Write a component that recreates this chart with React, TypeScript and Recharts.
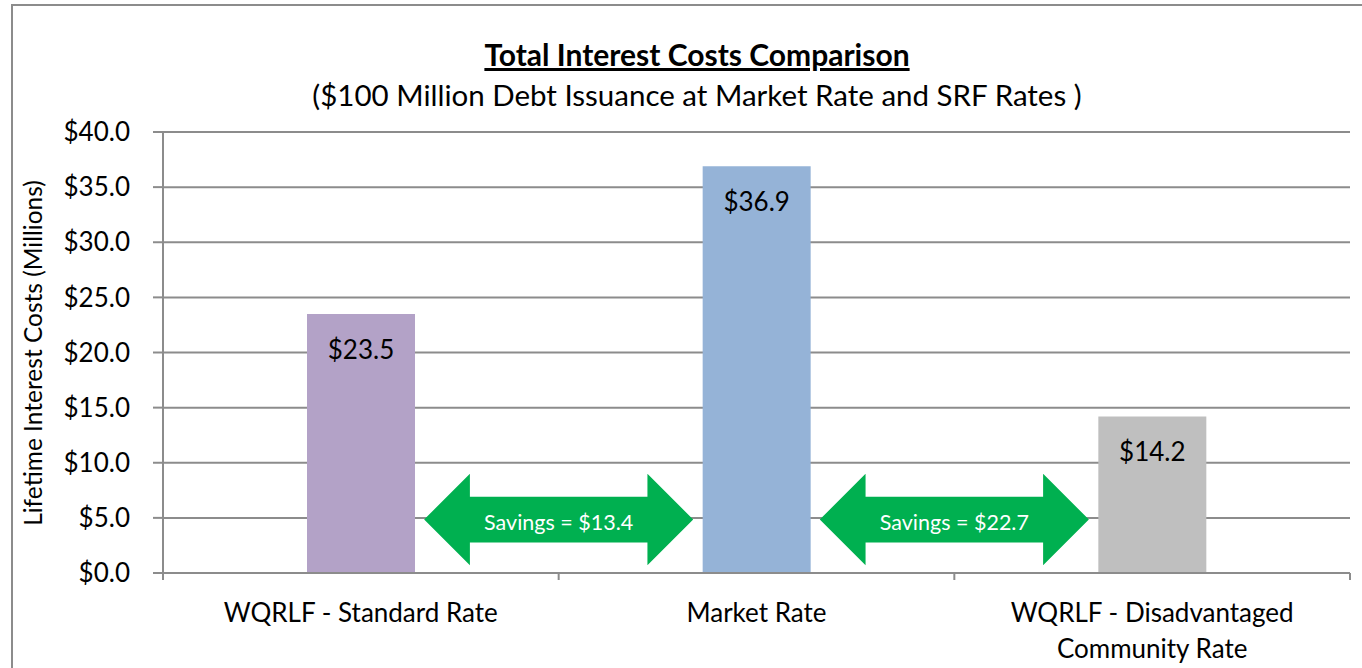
import React from "react";
import {
  BarChart,
  Bar,
  XAxis,
  YAxis,
  CartesianGrid,
  Cell,
  LabelList,
  ReferenceArea,
} from "recharts";

const categories = [
  "WQRLF - Standard Rate",
  "Market Rate",
  "WQRLF - Disadvantaged Community Rate",
];
const categoryLines = [
  ["WQRLF - Standard Rate"],
  ["Market Rate"],
  ["WQRLF - Disadvantaged", "Community Rate"],
];
const values = [23.5, 36.9, 14.2];
const barColors = ["#B3A2C7", "#95B3D7", "#BFBFBF"];
const yTicks = [0, 5, 10, 15, 20, 25, 30, 35, 40];
const savingsFrom = [categories[0], categories[1]];
const savingsTo = [categories[1], categories[2]];
const savingsLabels = ["Savings = $13.4", "Savings = $22.7"];
const arrowLow = 0.7;
const arrowHigh = 9.0;

const title = "Total Interest Costs Comparison";
const subtitle = "($100 Million Debt Issuance at Market Rate and SRF Rates )";
const yAxisTitle = "Lifetime Interest Costs (Millions)";

const data = categories.map((c, i) => ({ name: c, value: values[i] }));

const FONT = "Lato, 'Open Sans', sans-serif";
const GRID = "#8c8c8c";
const GREEN = "#00B050";

const ArrowShape = (props: any) => {
  const { x, y, width, height, text } = props;
  const cx = x + width / 2;
  const cy = y + height / 2;
  const band = width / 2;
  const half = band * 0.34;
  const head = height * 0.5;
  const shaft = height * 0.25;
  const l = cx - half;
  const r = cx + half;
  const pts = [
    [l, cy],
    [l + head, y],
    [l + head, cy - shaft],
    [r - head, cy - shaft],
    [r - head, y],
    [r, cy],
    [r - head, y + height],
    [r - head, cy + shaft],
    [l + head, cy + shaft],
    [l + head, y + height],
  ]
    .map((p) => p.join(","))
    .join(" ");
  return (
    <g>
      <polygon points={pts} fill={GREEN} />
      <text
        x={cx}
        y={cy + 2}
        textAnchor="middle"
        dominantBaseline="central"
        fill="#ffffff"
        fontFamily={FONT}
        fontSize={21.5}
      >
        {text}
      </text>
    </g>
  );
};

const CategoryTick = (props: any) => {
  const { x, y, payload, index, width, visibleTicksCount } = props;
  const band = width / (visibleTicksCount || 3);
  const lines = categoryLines[index] || [payload.value];
  return (
    <g>
      {index === 0 && (
        <line x1={x - band / 2} x2={x - band / 2} y1={y} y2={y + 7} stroke={GRID} strokeWidth={2} />
      )}
      <line x1={x + band / 2} x2={x + band / 2} y1={y} y2={y + 7} stroke={GRID} strokeWidth={2} />
      {lines.map((ln: string, i: number) => (
        <text
          key={i}
          x={x}
          y={y + 39 + i * 36}
          textAnchor="middle"
          dominantBaseline="central"
          fill="#000"
          fontFamily={FONT}
          fontSize={26}
        >
          {ln}
        </text>
      ))}
    </g>
  );
};

const BarValueLabel = (props: any) => {
  const { x, y, width, value } = props;
  return (
    <text
      x={x + width / 2}
      y={y + 35}
      textAnchor="middle"
      dominantBaseline="central"
      fill="#000"
      fontFamily={FONT}
      fontSize={26}
    >
      {"$" + Number(value).toFixed(1)}
    </text>
  );
};

export default function App() {
  return (
    <div
      style={{
        position: "absolute",
        left: 0,
        top: 0,
        width: 1362,
        height: 668,
        overflow: "hidden",
        background: "#fff",
        fontFamily: FONT,
      }}
    >
      <div
        style={{
          position: "absolute",
          left: 11,
          top: 4,
          width: 1400,
          height: 700,
          border: "2px solid #8c8c8c",
        }}
      />
      <div
        style={{
          position: "absolute",
          left: 0,
          width: 1394,
          top: 36,
          textAlign: "center",
          fontWeight: 700,
          fontSize: 30,
          textDecoration: "underline",
          color: "#000",
          lineHeight: "36px",
        }}
      >
        {title}
      </div>
      <div
        style={{
          position: "absolute",
          left: 0,
          width: 1394,
          top: 77,
          textAlign: "center",
          fontSize: 29.5,
          color: "#000",
          lineHeight: "36px",
        }}
      >
        {subtitle}
      </div>
      <div
        style={{
          position: "absolute",
          left: 33,
          top: 353,
          transform: "translate(-50%, -50%) rotate(-90deg)",
          whiteSpace: "nowrap",
          fontSize: 24.5,
          color: "#000",
          lineHeight: "28px",
        }}
      >
        {yAxisTitle}
      </div>
      <div style={{ position: "absolute", left: 0, top: 0 }}>
        <BarChart
          width={1362}
          height={668}
          data={data}
          margin={{ top: 132, right: 12, bottom: 0, left: 0 }}
          barSize={108}
        >
          <CartesianGrid vertical={false} stroke={GRID} strokeWidth={2} />
          <XAxis
            dataKey="name"
            axisLine={{ stroke: GRID, strokeWidth: 2 }}
            tickLine={false}
            tickSize={0}
            tickMargin={0}
            interval={0}
            tick={<CategoryTick />}
            height={95}
          />
          <YAxis
            width={163}
            domain={[0, 40]}
            ticks={yTicks}
            interval={0}
            axisLine={{ stroke: GRID, strokeWidth: 2 }}
            tickLine={{ stroke: GRID, strokeWidth: 2 }}
            tickSize={10}
            tickMargin={23}
            tickFormatter={(v: number) => "$" + v.toFixed(1)}
            tick={{ fill: "#000", fontFamily: FONT, fontSize: 26 }}
          />
          {savingsLabels.map((lbl, i) => (
            <ReferenceArea
              key={i}
              x1={savingsFrom[i]}
              x2={savingsTo[i]}
              y1={arrowLow}
              y2={arrowHigh}
              ifOverflow="visible"
              shape={(p: any) => <ArrowShape {...p} text={lbl} />}
            />
          ))}
          <Bar dataKey="value" isAnimationActive={false}>
            {data.map((d, i) => (
              <Cell key={i} fill={barColors[i]} />
            ))}
            <LabelList dataKey="value" content={<BarValueLabel />} />
          </Bar>
        </BarChart>
      </div>
    </div>
  );
}
